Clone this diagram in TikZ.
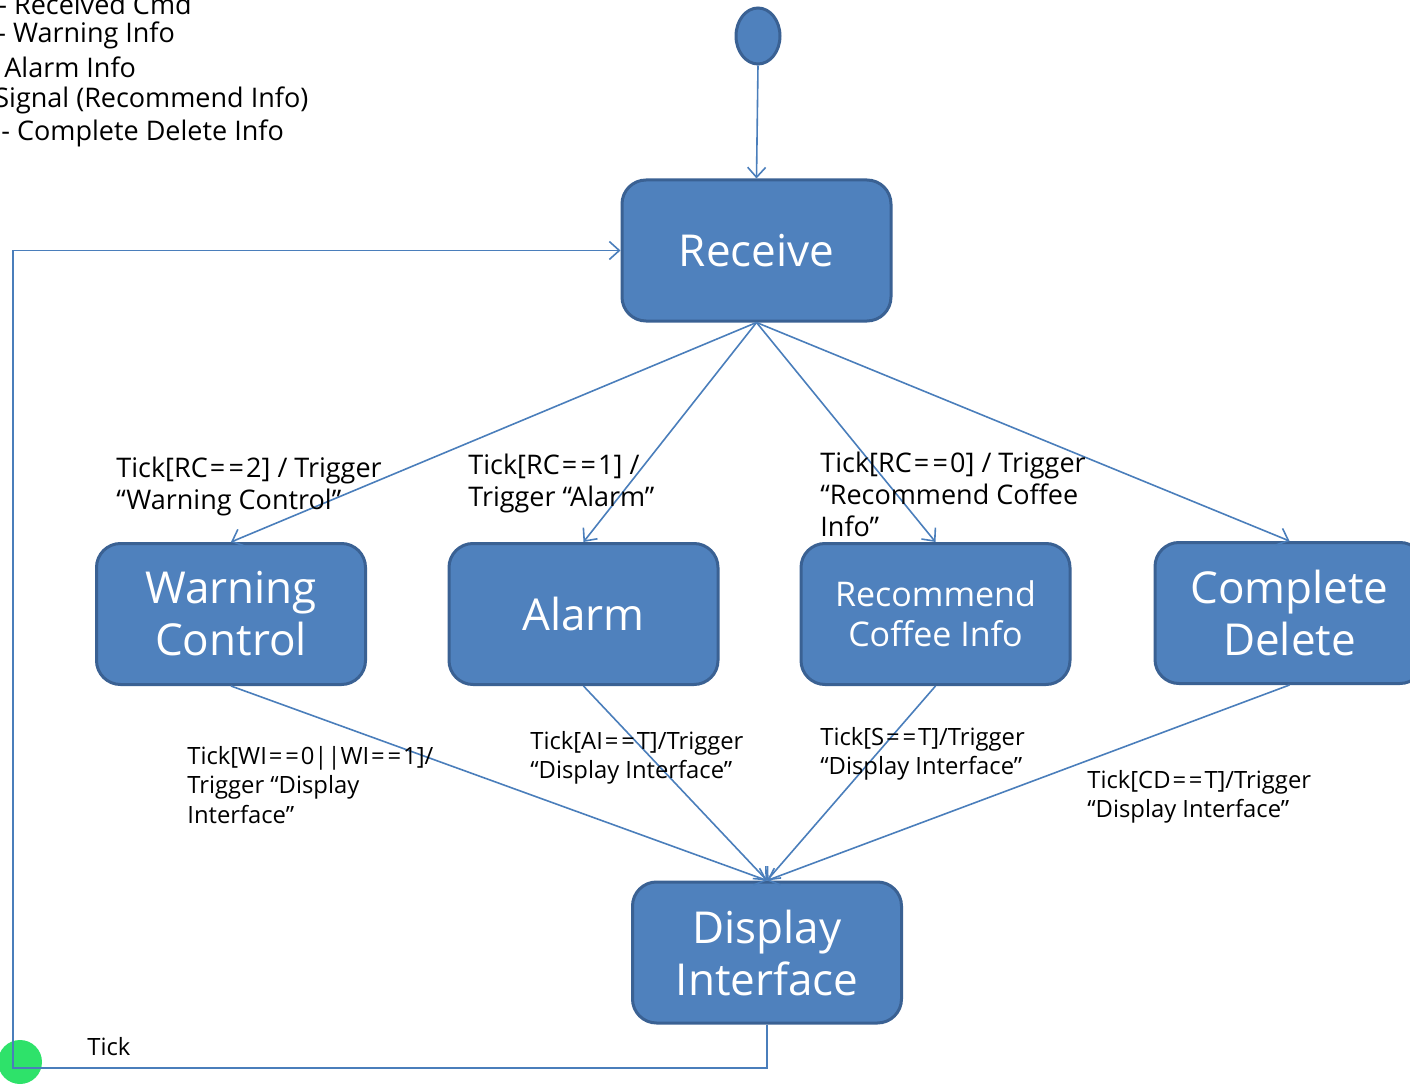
\documentclass[tikz,border=0pt]{standalone}
\usepackage{fontspec}
\setmainfont{Open Sans}
\usetikzlibrary{arrows.meta,shapes.geometric}
\definecolor{boxfill}{HTML}{4F81BD}
\definecolor{boxline}{HTML}{3A6193}
\definecolor{conn}{HTML}{4A7EBB}
\definecolor{dotgreen}{RGB}{46,226,106}
\newcommand\eqeq{\kern0.08em=\kern0.12em=\kern0.08em}
\tikzset{
  state/.style={draw=boxline, fill=boxfill, line width=1.5pt, rounded corners=12pt,
    minimum width=134.5pt, minimum height=70.5pt, text=white, align=center, inner sep=0pt,
    font=\fontsize{22}{26}\selectfont},
  smallstate/.style={state, font=\fontsize{17}{20}\selectfont},
  conn/.style={draw=conn, line width=0.8pt, -{Straight Barb[length=5pt,width=9pt]}},
  lbl/.style={anchor=west, align=left, inner sep=0pt, font=\fontsize{13.5}{16}\selectfont},
  lbls/.style={anchor=west, align=left, inner sep=0pt, font=\fontsize{11.9}{14.8}\selectfont},
  legend/.style={anchor=west, inner sep=0pt, font=\fontsize{13.5}{16}\selectfont},
}
\begin{document}
\begin{tikzpicture}[x=0.5pt,y=-0.5pt]
\useasboundingbox (0,0) rectangle (1410,1086);
\clip (0,0) rectangle (1410,1086);
% legend text (clipped at left)
\node[legend] (l1) at (-2,4) {- Received Cmd};
\node[legend] (l2) at (-3,35) {- Warning Info};
\node[legend] (l3) at (4,67) {Alarm Info};
\node[legend] (l4) at (-6,100) {Signal (Recommend Info)};
\node[legend] (l5) at (1,133) {- Complete Delete Info};
% green dot
\node[circle, fill=dotgreen, minimum size=22pt, inner sep=0pt] (dot) at (20,1062) {};
% states
\node[draw=boxline, fill=boxfill, line width=1.5pt, ellipse, minimum width=22pt, minimum height=28pt, inner sep=0pt] (init) at (758,36) {};
\node[state] (rec) at (756.5,250.5) {Receive};
\node[state] (warn) at (231,614) {Warning\\Control};
\node[state] (alarm) at (583.5,614) {Alarm};
\node[smallstate] (recom) at (935.5,614) {Recommend\\Coffee Info};
\node[state] (comp) at (1289.5,613) {Complete\\Delete};
\node[state] (disp) at (767,952.5) {Display\\Interface};
% connectors
\draw[conn] (init.south) -- (rec.north);
\draw[conn] (rec.south) -- (warn.north);
\draw[conn] (rec.south) -- (alarm.north);
\draw[conn] (rec.south) -- (recom.north);
\draw[conn] (rec.south) -- (comp.north);
\draw[conn] (warn.south) -- (disp.north);
\draw[conn] (alarm.south) -- (disp.north);
\draw[conn] (recom.south) -- (disp.north);
\draw[conn] (comp.south) -- (disp.north);
\coordinate (loopc) at (13,1068);
\draw[conn] (disp.south) |- (loopc) |- (rec.west);
% labels
\node[lbl] (t1) at (116,486) {Tick[RC\eqeq2] / Trigger\\“Warning Control”};
\node[lbl] (t2) at (468,483) {Tick[RC\eqeq1] /\\Trigger “Alarm”};
\node[lbl] (t3) at (820,494) {Tick[RC\eqeq0] / Trigger\\“Recommend Coffee\\Info”};
\node[lbls] (t4) at (187,785) {Tick[WI\eqeq0||WI\eqeq1]/\\Trigger “Display\\Interface”};
\node[lbls] (t5) at (530,758) {Tick[AI\eqeq T]/Trigger\\“Display Interface”};
\node[lbls] (t6) at (820,754) {Tick[S\eqeq T]/Trigger\\“Display Interface”};
\node[lbls] (t7) at (1087,797) {Tick[CD\eqeq T]/Trigger\\“Display Interface”};
\node[lbls] (tick) at (87,1047) {Tick};
\end{tikzpicture}
\end{document}
